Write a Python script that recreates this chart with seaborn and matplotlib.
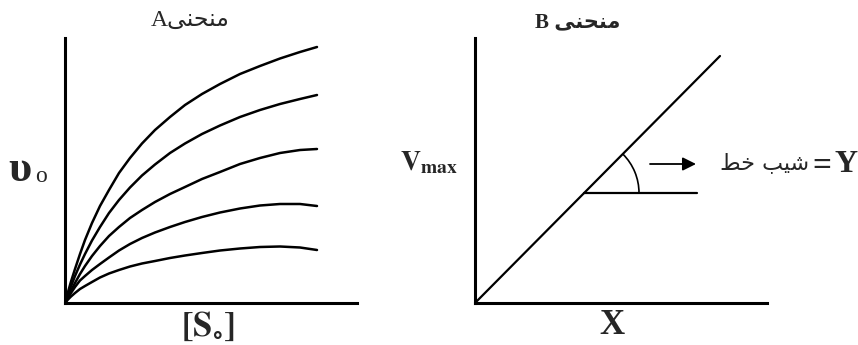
import pandas as pd
import matplotlib
matplotlib.use("Agg")
import matplotlib.pyplot as plt
import seaborn as sns
from matplotlib.patches import Arc

# --- منحنی A : پنج منحنی اشباع (مقادیر خوانده شده از تصویر) ---
s_vals = [0, 3, 6, 10, 15, 20, 27, 35, 44, 54, 65, 77, 90, 105, 120,
          137, 155, 175, 195, 215, 235, 252]
curve_1 = [0, 11, 21.5, 34, 49, 63, 80, 97, 113, 130, 145, 159.5, 173,
           186, 198, 209, 219, 229, 237, 244.5, 251, 256]
curve_2 = [0, 8.6, 16.7, 27, 38.5, 49, 62.5, 76, 90, 103, 115.5, 127.5,
           138.5, 150, 159.5, 169, 177.5, 186, 193, 199, 204, 208]
curve_3 = [0, 6.5, 12.5, 20, 29, 37, 47, 57, 67, 76, 85, 93, 101, 109,
           116, 124, 131, 139, 145, 150, 153, 154]
curve_4 = [0, 5, 10, 16, 22.5, 27, 33, 39, 45.5, 52.5, 59, 65, 70.5, 76,
           81, 86, 90.5, 94.5, 97.5, 99, 99, 97]
curve_5 = [0, 3.5, 6.5, 10, 14, 17, 21, 25.5, 29.5, 33, 36.5, 39.5, 42,
           45, 47.5, 50, 52.5, 54.5, 56, 56.5, 55.5, 53]

# --- منحنی B : خط راست ---
b_x = [0, 245]
b_y = [0, 247]
base_x = [109, 222]
base_y = [110, 110]
arc_center = (109, 110)
arc_radius = 55
arc_angle = 45
arrow_from = (175, 139)
arrow_to = (221, 139)

# متن فارسی به صورت شکل‌های نمایشی (ترتیب دیداری)
monhani = "\uFEF0\uFEE8\uFEA4\uFEE8\uFEE3"      # منحنی
shib_khat = "\uFEC2\uFEA7 \uFE90\uFEF4\uFEB7"    # شیب خط

sns.set_style("white")
plt.rcParams["mathtext.fontset"] = "stix"
plt.rcParams["font.family"] = ["Liberation Serif", "DejaVu Sans"]

fig = plt.figure(figsize=(8.58, 3.45), dpi=100)
W, H = 858, 345
axA = fig.add_axes([65 / W, 42 / H, 292 / W, 265 / H])
axB = fig.add_axes([475 / W, 42 / H, 292 / W, 265 / H])

df = pd.DataFrame({
    "s": s_vals * 5,
    "v": curve_1 + curve_2 + curve_3 + curve_4 + curve_5,
    "c": sum([[i] * len(s_vals) for i in range(5)], []),
})
sns.lineplot(data=df, x="s", y="v", hue="c", palette=["black"] * 5,
             estimator=None, sort=False, legend=False, lw=1.8, ax=axA)

sns.lineplot(x=b_x, y=b_y, color="black", lw=1.6, ax=axB)
sns.lineplot(x=base_x, y=base_y, color="black", lw=1.6, ax=axB)
axB.add_patch(Arc(arc_center, 2 * arc_radius, 2 * arc_radius, theta1=0,
                  theta2=arc_angle, color="black", lw=1.2))
axB.annotate("", xy=arrow_to, xytext=arrow_from,
             arrowprops=dict(arrowstyle="-|>", color="black", lw=1.3,
                             mutation_scale=20, shrinkA=0, shrinkB=0))

for ax in (axA, axB):
    ax.set_xlim(0, 292)
    ax.set_ylim(0, 265)
    ax.set_xticks([])
    ax.set_yticks([])
    ax.set_xlabel("")
    ax.set_ylabel("")
    for side in ("top", "right"):
        ax.spines[side].set_visible(False)
    for side in ("left", "bottom"):
        ax.spines[side].set_color("black")
        ax.spines[side].set_linewidth(2.2)
    ax.patch.set_alpha(0)

# عنوان‌ها و برچسب‌ها
fig.text(190 / W, 1 - 20 / H, "A" + monhani, ha="center", va="center",
         fontsize=17)
fig.text(578 / W, 1 - 22 / H, "B " + monhani, ha="center", va="center",
         fontsize=15, fontweight="bold")
fig.text(20 / W, 1 - 170 / H, "υ", ha="center", va="center",
         fontsize=32, fontweight="bold")
fig.text(41 / W, 1 - 177 / H, "o", ha="center", va="center",
         fontsize=17)
fig.text(208 / W, 1 - 327 / H, r"$\mathbf{[S_{\circ}]}$", ha="center",
         va="center", fontsize=25)
fig.text(429 / W, 1 - 163 / H, r"$\mathbf{V_{max}}$", ha="center",
         va="center", fontsize=20)
fig.text(612 / W, 1 - 326 / H, "X", ha="center", va="center",
         fontsize=25, fontweight="bold")
fig.text(765 / W, 1 - 163 / H, shib_khat, ha="center", va="center",
         fontsize=16, family=["DejaVu Sans"])
fig.text(822 / W, 1 - 166 / H, "=", ha="center", va="center",
         fontsize=24, fontweight="bold")
fig.text(846 / W, 1 - 165 / H, "Y", ha="center", va="center",
         fontsize=23, fontweight="bold")

fig.savefig("out.png", dpi=100)
